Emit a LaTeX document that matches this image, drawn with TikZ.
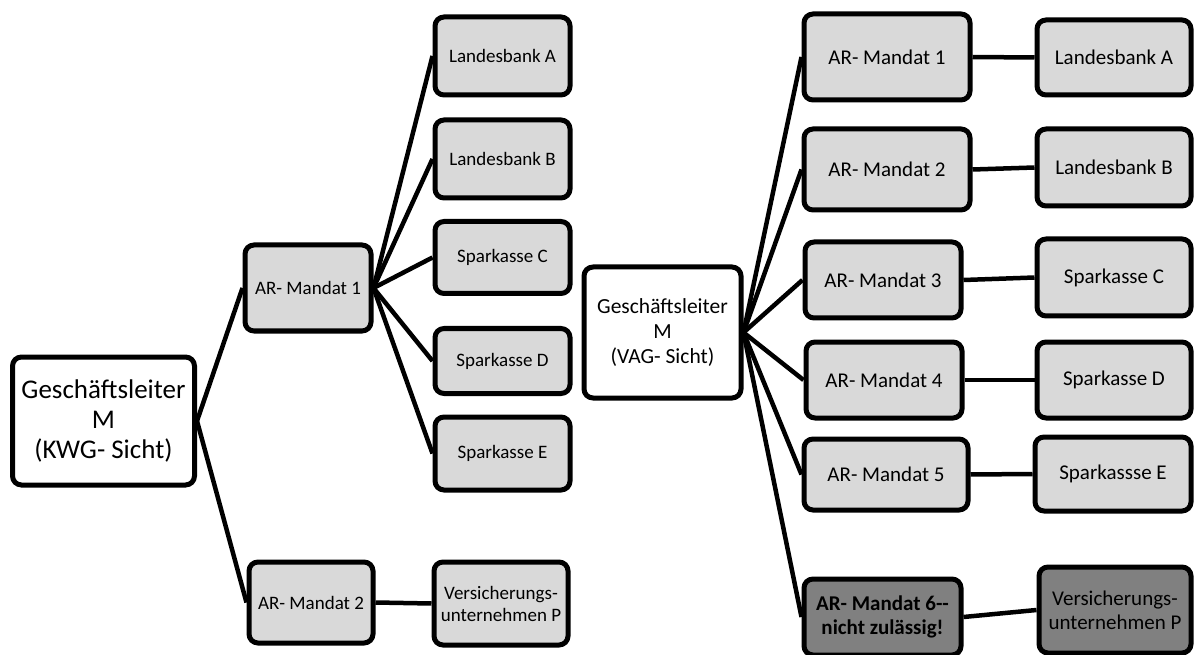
\documentclass[tikz,border=0pt]{standalone}
\usepackage{fontspec}
\setmainfont{Carlito}
\definecolor{boxlight}{HTML}{D9D9D9}
\definecolor{boxdark}{HTML}{808080}
\begin{document}
\begin{tikzpicture}[x=1pt,y=-1pt,
  base/.style={draw=black,line width=5pt,rounded corners=9pt,inner sep=0pt,align=center,font=\fontsize{19}{22}\selectfont},
  glbox/.style={base,fill=white},
  lbox/.style={base,fill=boxlight},
  rbox/.style={base,fill=boxlight,font=\fontsize{21}{24}\selectfont},
  dbox/.style={base,fill=boxdark,font=\fontsize{21}{24}\selectfont},
  link/.style={line width=4.5pt}]
\clip (0,0) rectangle (1195,655);
\useasboundingbox (0,0) rectangle (1195,655);
% left tree
\node[glbox,minimum width=182pt,minimum height=128pt,font=\fontsize{27}{30}\selectfont] (glK) at (103.5,421) {Geschäftsleiter\\M\\(KWG- Sicht)};
\node[lbox,minimum width=126pt,minimum height=86pt] (ar1L) at (308,288) {AR- Mandat 1};
\node[lbox,minimum width=135pt,minimum height=78pt] (laL) at (502.5,56) {Landesbank A};
\node[lbox,minimum width=135pt,minimum height=78pt] (lbL) at (502.5,159) {Landesbank B};
\node[lbox,minimum width=135pt,minimum height=72pt] (scL) at (502.5,257.5) {Sparkasse C};
\node[lbox,minimum width=135pt,minimum height=65pt] (sdL) at (502.5,361) {Sparkasse D};
\node[lbox,minimum width=135pt,minimum height=73pt] (seL) at (502.5,453.5) {Sparkasse E};
\node[lbox,minimum width=124pt,minimum height=81pt] (ar2L) at (311,602.5) {AR- Mandat 2};
\node[lbox,minimum width=134pt,minimum height=83pt] (vpL) at (501,603.5) {Versicherungs-\\unternehmen P};
\draw[link] (glK.east) -- (ar1L.west);
\draw[link] (glK.east) -- (ar2L.west);
\foreach \t in {laL,lbL,scL,sdL,seL}{\draw[link] (ar1L.east) -- (\t.west);}
\draw[link] (ar2L.east) -- (vpL.west);
% right tree
\node[glbox,minimum width=157pt,minimum height=131pt,font=\fontsize{21.5}{25}\selectfont] (glV) at (662.5,332.5) {Geschäftsleiter\\M\\(VAG- Sicht)};
\node[rbox,minimum width=166pt,minimum height=86pt] (ar1R) at (887,57) {AR- Mandat 1};
\node[rbox,minimum width=166pt,minimum height=81pt] (ar2R) at (887,169.5) {AR- Mandat 2};
\node[rbox,minimum width=156pt,minimum height=76pt] (ar3R) at (883,280) {AR- Mandat 3};
\node[rbox,minimum width=156pt,minimum height=76pt] (ar4R) at (884,380) {AR- Mandat 4};
\node[rbox,minimum width=164pt,minimum height=71pt] (ar5R) at (886,474.5) {AR- Mandat 5};
\node[dbox,minimum width=157pt,minimum height=76pt,font=\fontsize{21}{24}\selectfont\bfseries] (ar6R) at (882.5,617) {AR- Mandat 6-{}-\\nicht zulässig!};
\node[rbox,minimum width=154pt,minimum height=75pt] (laR) at (1114,57.5) {Landesbank A};
\node[rbox,minimum width=154pt,minimum height=77pt] (lbR) at (1114,167.5) {Landesbank B};
\node[rbox,minimum width=154pt,minimum height=77pt] (scR) at (1114,277.5) {Sparkasse C};
\node[rbox,minimum width=154pt,minimum height=76pt] (sdR) at (1114,380) {Sparkasse D};
\node[rbox,minimum width=156pt,minimum height=74pt] (seR) at (1113,474) {Sparkassse E};
\node[dbox,minimum width=152pt,minimum height=86pt] (vpR) at (1115,610) {Versicherungs-\\unternehmen P};
\foreach \t in {ar1R,ar2R,ar3R,ar4R,ar5R,ar6R}{\draw[link] (glV.east) -- (\t.west);}
\draw[link] (ar1R.east) -- (laR.west);
\draw[link] (ar2R.east) -- (lbR.west);
\draw[link] (ar3R.east) -- (scR.west);
\draw[link] (ar4R.east) -- (sdR.west);
\draw[link] (ar5R.east) -- (seR.west);
\draw[link] (ar6R.east) -- (vpR.west);
\end{tikzpicture}
\end{document}
